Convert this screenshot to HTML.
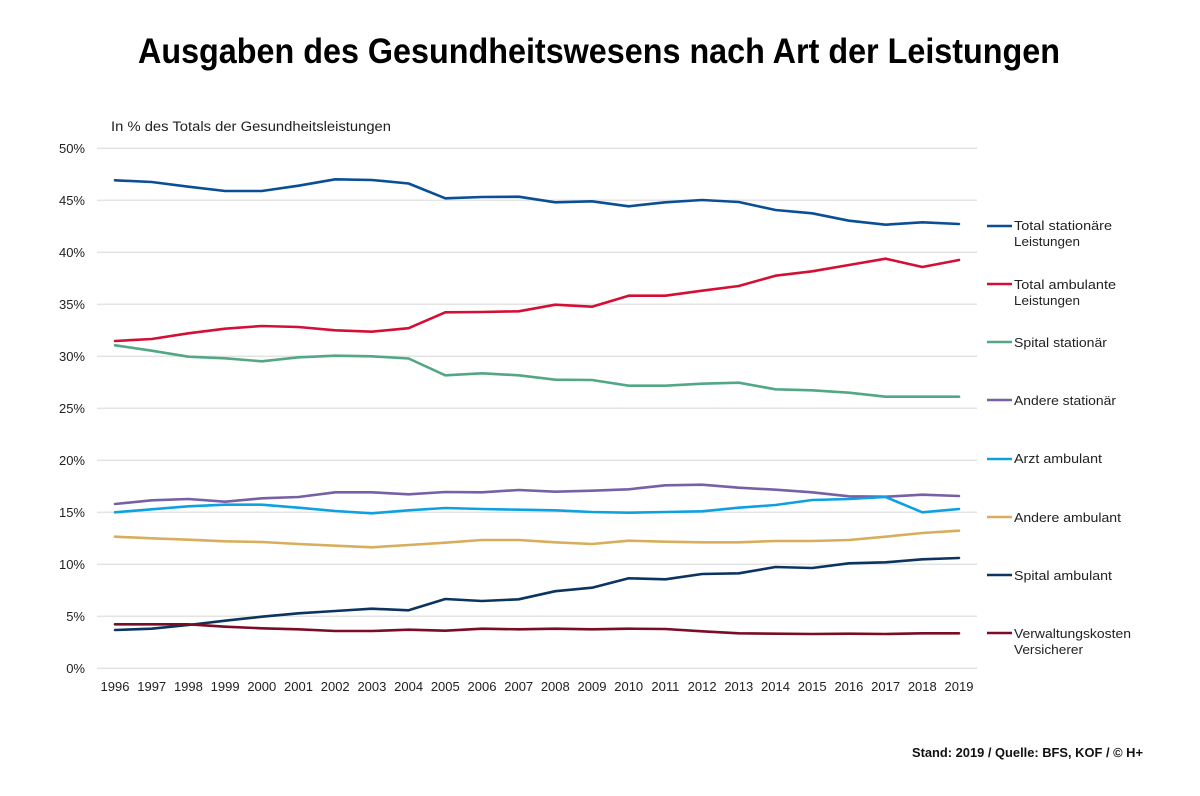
<!DOCTYPE html>
<html><head><meta charset="utf-8"><style>
html,body{margin:0;padding:0;background:#fff;}
svg{display:block;}
text{font-family:"Liberation Sans",sans-serif;fill:#222;}
</style></head><body>
<svg width="1200" height="796" viewBox="0 0 1200 796" xmlns="http://www.w3.org/2000/svg">
<rect width="1200" height="796" fill="#fff"/>
<text x="599" y="63" font-size="35" font-weight="bold" text-anchor="middle" fill="#000" style="fill:#000" textLength="922" lengthAdjust="spacingAndGlyphs">Ausgaben des Gesundheitswesens nach Art der Leistungen</text>
<text x="111" y="131" font-size="13.5" textLength="280" lengthAdjust="spacingAndGlyphs">In % des Totals der Gesundheitsleistungen</text>
<g stroke="#e4e4e4" stroke-width="1.6">
<line x1="97" x2="977" y1="148.3" y2="148.3"/>
<line x1="97" x2="977" y1="200.3" y2="200.3"/>
<line x1="97" x2="977" y1="252.3" y2="252.3"/>
<line x1="97" x2="977" y1="304.3" y2="304.3"/>
<line x1="97" x2="977" y1="356.3" y2="356.3"/>
<line x1="97" x2="977" y1="408.3" y2="408.3"/>
<line x1="97" x2="977" y1="460.3" y2="460.3"/>
<line x1="97" x2="977" y1="512.3" y2="512.3"/>
<line x1="97" x2="977" y1="564.3" y2="564.3"/>
<line x1="97" x2="977" y1="616.3" y2="616.3"/>
<line x1="97" x2="977" y1="668.3" y2="668.3"/>
</g>
<g font-size="13" text-anchor="end">
<text x="85" y="153">50%</text>
<text x="85" y="205">45%</text>
<text x="85" y="257">40%</text>
<text x="85" y="309">35%</text>
<text x="85" y="361">30%</text>
<text x="85" y="413">25%</text>
<text x="85" y="465">20%</text>
<text x="85" y="517">15%</text>
<text x="85" y="569">10%</text>
<text x="85" y="621">5%</text>
<text x="85" y="673">0%</text>
</g>
<g font-size="13" text-anchor="middle">
<text x="115" y="691">1996</text><text x="151.7" y="691">1997</text><text x="188.4" y="691">1998</text><text x="225.1" y="691">1999</text>
<text x="261.8" y="691">2000</text><text x="298.5" y="691">2001</text><text x="335.2" y="691">2002</text><text x="371.9" y="691">2003</text>
<text x="408.6" y="691">2004</text><text x="445.3" y="691">2005</text><text x="482" y="691">2006</text><text x="518.7" y="691">2007</text>
<text x="555.3" y="691">2008</text><text x="592" y="691">2009</text><text x="628.7" y="691">2010</text><text x="665.4" y="691">2011</text>
<text x="702.1" y="691">2012</text><text x="738.8" y="691">2013</text><text x="775.5" y="691">2014</text><text x="812.2" y="691">2015</text>
<text x="848.9" y="691">2016</text><text x="885.6" y="691">2017</text><text x="922.3" y="691">2018</text><text x="959" y="691">2019</text>
</g>
<g fill="none" stroke-width="2.6" stroke-linejoin="round" stroke-linecap="round">
<polyline stroke="#0a4f96" points="115,180.3 151.7,182 188.4,186.7 225.1,191 261.8,191 298.5,185.7 335.2,179.3 371.9,180 408.6,183.5 445.3,198.3 482,197 518.7,196.7 555.3,202.3 592,201.3 628.7,206.3 665.4,202.3 702.1,200 738.8,202 775.5,210 812.2,213.3 848.9,220.7 885.6,224.7 922.3,222.3 959,224"/>
<polyline stroke="#d40f35" points="115,341 151.7,339 188.4,333.3 225.1,328.7 261.8,326 298.5,327 335.2,330.3 371.9,331.7 408.6,328.2 445.3,312.3 482,312 518.7,311.3 555.3,304.7 592,306.7 628.7,295.7 665.4,295.7 702.1,290.7 738.8,286 775.5,275.7 812.2,271.3 848.9,265 885.6,258.7 922.3,267 959,260"/>
<polyline stroke="#52a884" points="115,345.3 151.7,350.7 188.4,356.7 225.1,358.3 261.8,361.3 298.5,357.3 335.2,355.7 371.9,356.3 408.6,358.5 445.3,375.3 482,373.3 518.7,375.3 555.3,379.7 592,380 628.7,385.7 665.4,385.7 702.1,383.7 738.8,382.7 775.5,389.3 812.2,390.3 848.9,392.7 885.6,396.7 922.3,396.7 959,396.7"/>
<polyline stroke="#7660a6" points="115,504 151.7,500.3 188.4,499 225.1,501.7 261.8,498.3 298.5,497 335.2,492.3 371.9,492.3 408.6,494.3 445.3,492 482,492.3 518.7,490 555.3,491.7 592,490.7 628.7,489.3 665.4,485.3 702.1,484.7 738.8,487.7 775.5,489.7 812.2,492.3 848.9,496.3 885.6,496.7 922.3,494.7 959,496"/>
<polyline stroke="#0ea1e2" points="115,512.3 151.7,509.3 188.4,506.3 225.1,504.7 261.8,504.7 298.5,507.7 335.2,511 371.9,513.3 408.6,510.3 445.3,508 482,509 518.7,509.7 555.3,510.3 592,512 628.7,512.7 665.4,512 702.1,511.3 738.8,507.7 775.5,505 812.2,500 848.9,499 885.6,497 922.3,512.3 959,509"/>
<polyline stroke="#d8ae5c" points="115,536.7 151.7,538.3 188.4,539.7 225.1,541.3 261.8,542 298.5,544 335.2,545.7 371.9,547.3 408.6,545 445.3,542.7 482,540 518.7,540 555.3,542.3 592,544 628.7,540.7 665.4,541.7 702.1,542.3 738.8,542.3 775.5,541 812.2,541 848.9,540 885.6,536.7 922.3,533 959,530.7"/>
<polyline stroke="#0c3460" points="115,630 151.7,628.7 188.4,625 225.1,620.7 261.8,616.7 298.5,613.3 335.2,611 371.9,608.7 408.6,610.3 445.3,599 482,601 518.7,599.3 555.3,591.2 592,587.7 628.7,578.3 665.4,579.3 702.1,574 738.8,573.3 775.5,567 812.2,568 848.9,563.3 885.6,562.3 922.3,559.3 959,558"/>
<polyline stroke="#7a0c26" points="115,624.3 151.7,624.3 188.4,624.3 225.1,626.7 261.8,628.3 298.5,629.3 335.2,631 371.9,631 408.6,629.7 445.3,630.7 482,628.7 518.7,629.3 555.3,628.7 592,629.3 628.7,628.7 665.4,629 702.1,631.3 738.8,633.3 775.5,633.7 812.2,634 848.9,633.7 885.6,634 922.3,633.3 959,633.3"/>
</g>
<g stroke-width="2.6">
<line x1="987" x2="1012" y1="226" y2="226" stroke="#0a4f96"/>
<line x1="987" x2="1012" y1="284" y2="284" stroke="#d40f35"/>
<line x1="987" x2="1012" y1="342" y2="342" stroke="#52a884"/>
<line x1="987" x2="1012" y1="400" y2="400" stroke="#7660a6"/>
<line x1="987" x2="1012" y1="459" y2="459" stroke="#0ea1e2"/>
<line x1="987" x2="1012" y1="517" y2="517" stroke="#d8ae5c"/>
<line x1="987" x2="1012" y1="575" y2="575" stroke="#0c3460"/>
<line x1="987" x2="1012" y1="633" y2="633" stroke="#7a0c26"/>
</g>
<g font-size="13">
<text x="1014" y="230" textLength="98" lengthAdjust="spacingAndGlyphs">Total stationäre</text>
<text x="1014" y="246" textLength="66" lengthAdjust="spacingAndGlyphs">Leistungen</text>
<text x="1014" y="289" textLength="102" lengthAdjust="spacingAndGlyphs">Total ambulante</text>
<text x="1014" y="305" textLength="66" lengthAdjust="spacingAndGlyphs">Leistungen</text>
<text x="1014" y="347" textLength="93" lengthAdjust="spacingAndGlyphs">Spital stationär</text>
<text x="1014" y="405" textLength="102" lengthAdjust="spacingAndGlyphs">Andere stationär</text>
<text x="1014" y="463" textLength="88" lengthAdjust="spacingAndGlyphs">Arzt ambulant</text>
<text x="1014" y="522" textLength="107" lengthAdjust="spacingAndGlyphs">Andere ambulant</text>
<text x="1014" y="580" textLength="98" lengthAdjust="spacingAndGlyphs">Spital ambulant</text>
<text x="1014" y="638" textLength="117" lengthAdjust="spacingAndGlyphs">Verwaltungskosten</text>
<text x="1014" y="654" textLength="69" lengthAdjust="spacingAndGlyphs">Versicherer</text>
</g>
<text x="912" y="757" font-size="12.5" font-weight="bold" fill="#111" style="fill:#111" textLength="231" lengthAdjust="spacingAndGlyphs">Stand: 2019 / Quelle: BFS, KOF / © H+</text>
</svg>
</body></html>
